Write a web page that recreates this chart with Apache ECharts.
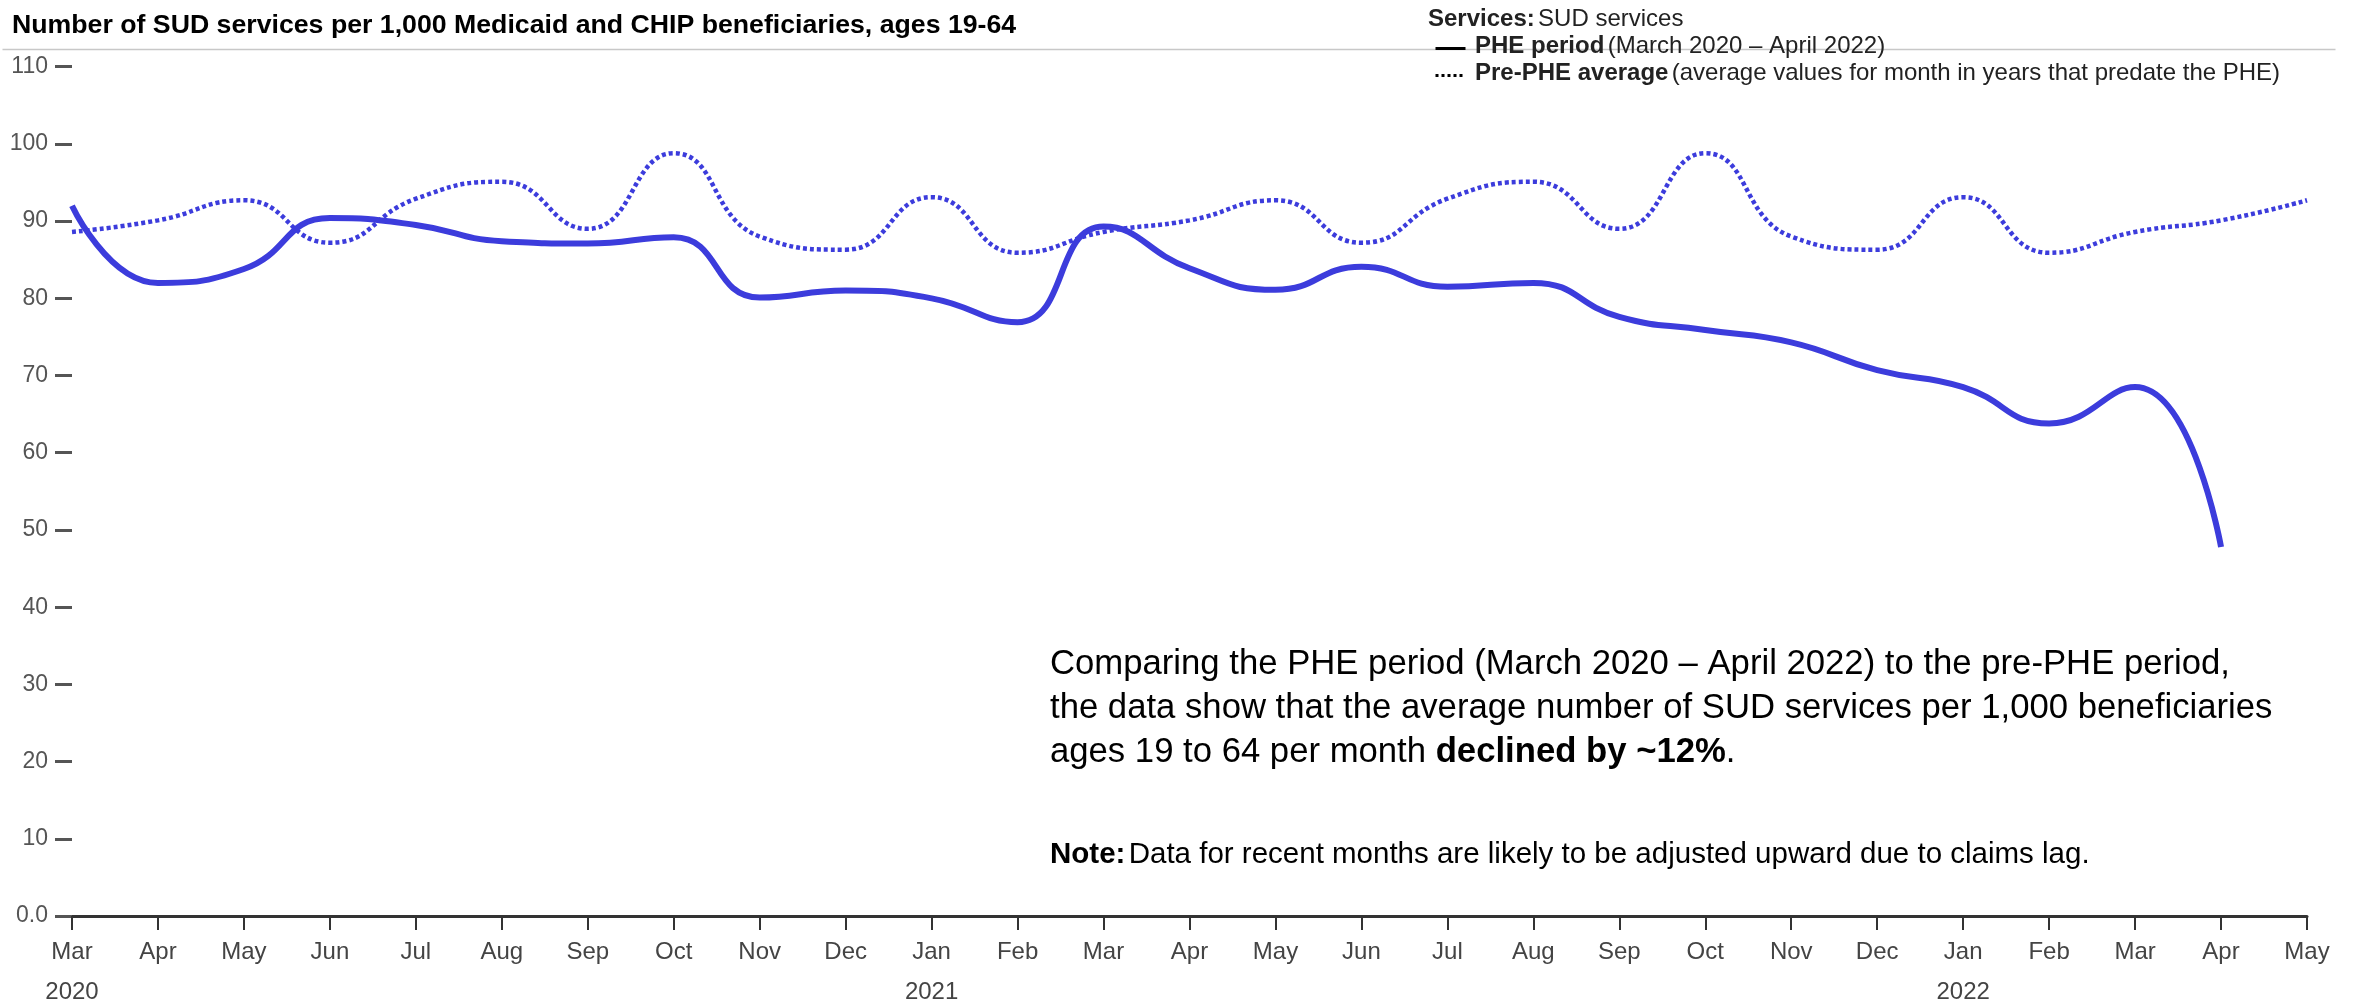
<!DOCTYPE html>
<html>
<head>
<meta charset="utf-8">
<script src="https://cdn.jsdelivr.net/npm/echarts@6/dist/echarts.min.js"></script>
<style>
  html, body { margin: 0; padding: 0; background: #fff; }
  #main { width: 2353px; height: 1002px; }
</style>
</head>
<body>
<div id="main"></div>
<script>
// month labels, Mar 2020 .. May 2022
const months = ["Mar\n2020", "Apr", "May", "Jun", "Jul", "Aug", "Sep", "Oct", "Nov", "Dec",
  "Jan\n2021", "Feb", "Mar", "Apr", "May", "Jun", "Jul", "Aug", "Sep", "Oct", "Nov", "Dec",
  "Jan\n2022", "Feb", "Mar", "Apr", "May"];

// PHE period (Mar 2020 - Apr 2022)
const phe = [92.0, 82.0, 83.8, 90.4, 89.5, 87.4, 87.1, 87.9, 80.1, 81.0,
  80.0, 76.9, 89.3, 83.9, 81.1, 84.1, 81.5, 82.0, 77.6, 75.9, 74.3, 70.7,
  68.5, 63.8, 68.5, 47.8];

// pre-PHE average for the same month
const prePhe = [88.6, 90.1, 92.7, 87.2, 92.9, 95.1, 89.0, 98.8, 88.0, 86.3,
  93.1, 85.9, 88.6, 90.1, 92.7, 87.2, 92.9, 95.1, 89.0, 98.8, 88.0, 86.3,
  93.1, 85.9, 88.6, 90.1, 92.7];

const yTicks = [0, 10, 20, 30, 40, 50, 60, 70, 80, 90, 100, 110];

const FONT = "'Liberation Sans', Arial, sans-serif";
const BLUE = '#3c3cdc';

var myChart = echarts.init(document.getElementById('main'));

// legend rows: bold part + normal part
function legendText(bold, normal) {
  return {
    text: '{b|' + bold + '} {n|' + normal + '}',
    rich: {
      b: { fontWeight: 'bold', fontSize: 24, fontFamily: FONT, fill: '#222' },
      n: { fontSize: 24, fontFamily: FONT, fill: '#222' }
    }
  };
}

var option = {
  animation: false,
  textStyle: { fontFamily: FONT },
  grid: { left: 72, right: 46, top: 66.7, bottom: 86, outerBoundsMode: 'none' },
  xAxis: {
    type: 'category',
    boundaryGap: false,
    data: months,
    axisLine: { lineStyle: { color: '#333', width: 3 } },
    axisTick: { show: true, length: 14, lineStyle: { color: '#333', width: 2 } },
    axisLabel: {
      color: '#444', fontSize: 24, fontFamily: FONT,
      lineHeight: 40, margin: 16, interval: 0
    }
  },
  yAxis: {
    type: 'value',
    min: yTicks[0],
    max: yTicks[yTicks.length - 1],
    interval: 10,
    splitLine: { show: false },
    axisLine: { show: false },
    axisTick: { show: true, length: 17, lineStyle: { color: '#555', width: 3 } },
    axisLabel: {
      color: '#555', fontSize: 23, fontFamily: FONT, margin: 24,
      formatter: function (v) { return v === 0 ? '0.0' : v; }
    }
  },
  series: [{
    name: 'Pre-PHE average',
    type: 'line',
    data: prePhe,
    smooth: 0.5,
    showSymbol: false,
    lineStyle: { color: BLUE, width: 4.5, type: [4, 3] },
    z: 2
  }, {
    name: 'PHE period',
    type: 'line',
    data: phe,
    smooth: 0.5,
    showSymbol: false,
    lineStyle: { color: BLUE, width: 6 },
    z: 3
  }],
  graphic: [
    // separator line under the title
    {
      type: 'line', left: 0, top: 47,
      shape: { x1: 0, y1: 0, x2: 2333, y2: 0 },
      style: { stroke: '#c8c8c8', lineWidth: 1.5 }
    },
    {
      type: 'text', left: 12, top: 12,
      style: {
        text: 'Number of SUD services per 1,000 Medicaid and CHIP beneficiaries, ages 19-64',
        font: 'bold 26.7px ' + FONT, fill: '#000'
      }
    },
    // legend
    { type: 'text', left: 1428, top: 7, style: legendText('Services:', 'SUD services') },
    {
      type: 'line', left: 1433, top: 46,
      shape: { x1: 0, y1: 0, x2: 30, y2: 0 },
      style: { stroke: '#000', lineWidth: 3 }
    },
    { type: 'text', left: 1475, top: 34, style: legendText('PHE period', '(March 2020 – April 2022)') },
    {
      type: 'line', left: 1433, top: 73,
      shape: { x1: 0, y1: 0, x2: 30, y2: 0 },
      style: { stroke: '#000', lineWidth: 3, lineDash: [3, 3] }
    },
    {
      type: 'text', left: 1475, top: 61,
      style: legendText('Pre-PHE average', '(average values for month in years that predate the PHE)')
    },
    // annotation
    {
      type: 'text', left: 1050, top: 647,
      style: {
        text: '{n|Comparing the PHE period (March 2020 – April 2022) to the pre-PHE period,}\n' +
          '{n|the data show that the average number of SUD services per 1,000 beneficiaries}\n' +
          '{n|ages 19 to 64 per month }{b|declined by ~12%}{n|.}',
        rich: {
          n: { fontSize: 34.7, fontFamily: FONT, fill: '#000', lineHeight: 44 },
          b: { fontSize: 34.7, fontFamily: FONT, fill: '#000', fontWeight: 'bold', lineHeight: 44 }
        }
      }
    },
    {
      type: 'text', left: 1050, top: 840,
      style: {
        text: '{b|Note:} {n|Data for recent months are likely to be adjusted upward due to claims lag.}',
        rich: {
          n: { fontSize: 29.5, fontFamily: FONT, fill: '#000' },
          b: { fontSize: 29.5, fontFamily: FONT, fill: '#000', fontWeight: 'bold' }
        }
      }
    }
  ]
};

myChart.setOption(option);
</script>
</body>
</html>
